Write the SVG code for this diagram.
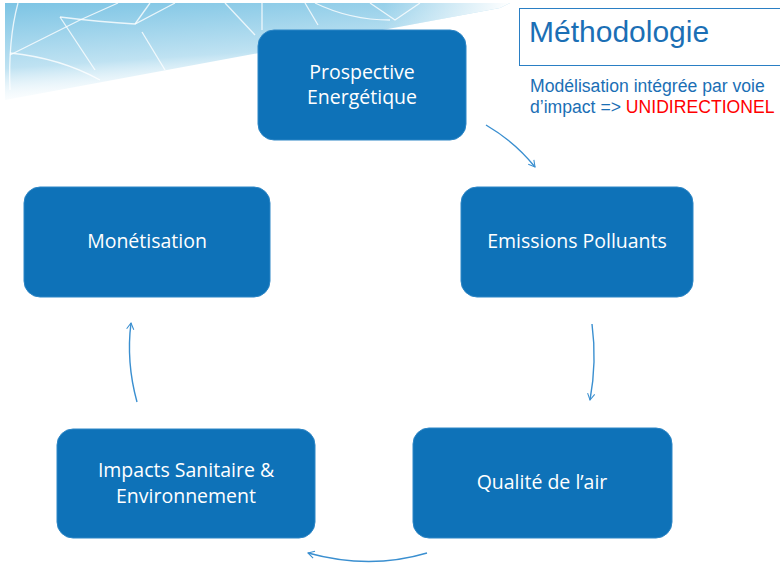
<svg xmlns="http://www.w3.org/2000/svg" width="780" height="563" viewBox="0 0 780 563">
<defs>
<linearGradient id="bg" x1="0" y1="0" x2="0.35" y2="1">
<stop offset="0" stop-color="#7cc4e4"/>
<stop offset="0.6" stop-color="#bfe2f2"/>
<stop offset="1" stop-color="#ffffff" stop-opacity="0"/>
</linearGradient>
<linearGradient id="fadeR" x1="0" y1="0" x2="1" y2="0">
<stop offset="0" stop-color="#fff" stop-opacity="0"/>
<stop offset="0.75" stop-color="#fff" stop-opacity="0"/>
<stop offset="1" stop-color="#fff" stop-opacity="1"/>
</linearGradient>
<marker id="ah" viewBox="0 0 10 10" refX="8" refY="5" markerWidth="9" markerHeight="9" orient="auto-start-reverse" markerUnits="userSpaceOnUse">
<path d="M1,1 L8,5 L1,9" fill="none" stroke="#3a8fd0" stroke-width="1.2"/>
</marker>
<style>
.node rect{fill:#0e72b8;stroke:#2d86c6;stroke-width:1}
.node text{fill:#ffffff;font-family:"Open Sans","Noto Sans",sans-serif;font-size:19.5px;text-anchor:middle}
.conn path{fill:none;stroke:#3a8fd0;stroke-width:1.4;marker-end:url(#ah)}
.bgl{fill:none;stroke:#ffffff;stroke-width:1.3;opacity:0.8}
</style>
</defs>
<rect width="780" height="563" fill="#ffffff"/>
<g id="background">
<path d="M5,3 L510,3 L500,8 Q250,55 5,100 Z" fill="url(#bg)"/>
<path d="M5,3 L510,3 L500,8 Q250,55 5,100 Z" fill="url(#fadeR)"/>
<path class="bgl" d="M18,3 Q8,40 10,90"/>
<path class="bgl" d="M10,55 L80,20 L118,3"/>
<path class="bgl" d="M60,17 Q100,22 135,24 L175,3"/>
<path class="bgl" d="M10,53 Q60,58 100,80"/>
<path class="bgl" d="M60,17 L95,70"/>
<path class="bgl" d="M142,32 L165,70"/>
<path class="bgl" d="M135,24 L150,3"/>
<path class="bgl" d="M225,3 L255,35"/>
<path class="bgl" d="M262,3 L262,30"/>
<path class="bgl" d="M305,3 L318,25"/>
<path class="bgl" d="M315,3 Q350,20 390,20"/>
<path class="bgl" d="M370,3 L395,20 L420,3"/>
</g>
<g id="title">
<rect x="519.5" y="8.5" width="270" height="57" fill="#ffffff" stroke="#2a7fc4" stroke-width="1"/>
<text x="529" y="42" font-family="Liberation Sans, Arial, sans-serif" font-size="30" fill="#1b6fb5">Méthodologie</text>
<text x="530" y="92" font-family="Liberation Sans, Arial, sans-serif" font-size="17.6" fill="#1b6fb5">Modélisation intégrée par voie</text>
<text x="530" y="113" font-family="Liberation Sans, Arial, sans-serif" font-size="17.6" fill="#1b6fb5">d’impact =&gt; <tspan fill="#ff0000">UNIDIRECTIONEL</tspan></text>
</g>
<g id="n1" class="node">
<rect x="258" y="30" width="208" height="110" rx="16"/>
<text x="362" y="79">Prospective</text>
<text x="362" y="104">Energétique</text>
</g>
<g id="n2" class="node">
<rect x="461" y="187" width="232" height="110" rx="16"/>
<text x="577" y="248">Emissions Polluants</text>
</g>
<g id="n3" class="node">
<rect x="413" y="428" width="259" height="110" rx="16"/>
<text x="542" y="489">Qualité de l’air</text>
</g>
<g id="n4" class="node">
<rect x="57" y="429" width="258" height="109" rx="16"/>
<text x="186" y="477">Impacts Sanitaire &amp;</text>
<text x="186" y="503">Environnement</text>
</g>
<g id="n5" class="node">
<rect x="24" y="187" width="246" height="110" rx="16"/>
<text x="147" y="248">Monétisation</text>
</g>
<g id="connectors" class="conn">
<path d="M486,125 Q515,142 535,167"/>
<path d="M592,324 Q597,362 590,400"/>
<path d="M427,553 Q370,570 308,553"/>
<path d="M137,402 Q126,362 131,323"/>
</g>
</svg>
